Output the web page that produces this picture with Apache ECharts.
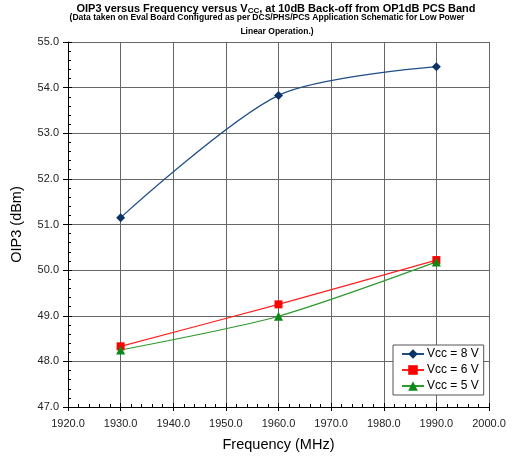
<!DOCTYPE html>
<html>
<head>
<meta charset="utf-8">
<script src="https://cdn.jsdelivr.net/npm/echarts@6/dist/echarts.min.js"></script>
<style>
  html, body { margin: 0; padding: 0; background: #fff; }
  #chart { width: 516px; height: 457px; }
</style>
</head>
<body>
<div id="chart"></div>
<script>
// Measured OIP3 (dBm) at each frequency (MHz) for three supply voltages
const frequencies = [1930, 1960, 1990];
const oip3Vcc8 = [51.15, 53.83, 54.46];
const oip3Vcc6 = [48.33, 49.25, 50.22];
const oip3Vcc5 = [48.25, 48.99, 50.18];
const seriesNames = ['Vcc = 8 V', 'Vcc = 6 V', 'Vcc = 5 V'];

const FONT = '"Liberation Sans", Arial, sans-serif';
const pairs = (ys) => frequencies.map((f, i) => [f, ys[i]]);

const chart = echarts.init(document.getElementById('chart'), null, { renderer: 'canvas' });

const labelFmt = (v) => Number(v).toFixed(1);

chart.setOption({
  animation: false,
  backgroundColor: '#ffffff',
  textStyle: { fontFamily: FONT },
  title: [
    {
      text: 'OIP3 versus Frequency versus V{sub|CC}, at 10dB Back-off from OP1dB PCS Band',
      left: 276, top: 2, textAlign: 'center', padding: 0,
      textStyle: {
        fontFamily: FONT, fontSize: 11, fontWeight: 'bold', color: '#000',
        rich: { sub: { fontFamily: FONT, fontSize: 8, fontWeight: 'bold', verticalAlign: 'bottom', padding: [5, 0, 0, 0], color: '#000' } }
      }
    },
    {
      text: '(Data taken on Eval Board Configured as per DCS/PHS/PCS Application Schematic for Low Power',
      left: 267, top: 13, textAlign: 'center', padding: 0,
      textStyle: { fontFamily: FONT, fontSize: 8.5, fontWeight: 'bold', color: '#000' }
    },
    {
      text: 'Linear Operation.)',
      left: 277, top: 27, textAlign: 'center', padding: 0,
      textStyle: { fontFamily: FONT, fontSize: 8.5, fontWeight: 'bold', color: '#000' }
    }
  ],
  legend: {
    left: 393, top: 345,
    orient: 'vertical',
    backgroundColor: '#fff',
    borderColor: '#555',
    borderWidth: 1,
    borderRadius: 0,
    padding: [3, 5, 3, 8],
    itemGap: 4,
    itemWidth: 22, itemHeight: 12,
    textStyle: { fontFamily: FONT, fontSize: 12, color: '#000', padding: [0, 0, 0, -2] },
    data: seriesNames
  },
  grid: { left: 68, right: 27, top: 42, bottom: 49, containLabel: false },
  xAxis: [
    {
      type: 'value', min: 1920, max: 2000, interval: 10,
      name: 'Frequency (MHz)', nameLocation: 'middle', nameGap: 30,
      nameTextStyle: { fontFamily: FONT, fontSize: 14.5, color: '#000' },
      axisLine: { show: true, lineStyle: { color: '#000', width: 1 } },
      axisTick: { show: true, inside: false, length: 4, lineStyle: { color: '#000' } },
      axisLabel: { fontFamily: FONT, fontSize: 11, color: '#222', margin: 11, formatter: labelFmt },
      splitLine: { show: true, lineStyle: { color: '#666', width: 1 } }
    },
    {
      type: 'value', min: 1920, max: 2000, interval: 10, position: 'bottom', offset: 0,
      axisLine: { show: false },
      axisTick: { show: true, inside: true, length: 4, lineStyle: { color: '#000' } },
      minorTick: { show: true, splitNumber: 5, length: 3, lineStyle: { color: '#000' } },
      axisLabel: { show: false },
      splitLine: { show: false }
    }
  ],
  yAxis: [
    {
      type: 'value', min: 47, max: 55, interval: 1,
      name: 'OIP3 (dBm)', nameLocation: 'middle', nameGap: 44, nameRotate: 90,
      nameTextStyle: { fontFamily: FONT, fontSize: 14.5, color: '#000' },
      axisLine: { show: true, lineStyle: { color: '#000', width: 1 } },
      axisTick: { show: true, inside: false, length: 5, lineStyle: { color: '#000' } },
      axisLabel: { fontFamily: FONT, fontSize: 11, color: '#222', margin: 9, formatter: labelFmt },
      splitLine: { show: true, lineStyle: { color: '#666', width: 1 } }
    },
    {
      type: 'value', min: 47, max: 55, interval: 1, position: 'left', offset: 0,
      axisLine: { show: false },
      axisTick: { show: true, inside: true, length: 4, lineStyle: { color: '#000' } },
      minorTick: { show: true, splitNumber: 5, length: 3, lineStyle: { color: '#000' } },
      axisLabel: { show: false },
      splitLine: { show: false }
    }
  ],
  series: [
    {
      name: seriesNames[0], type: 'line', smooth: 0.28,
      data: pairs(oip3Vcc8),
      symbol: 'diamond', symbolSize: 9,
      lineStyle: { color: '#1F4E86', width: 1.2 },
      itemStyle: { color: '#0A3466' }
    },
    {
      name: seriesNames[1], type: 'line', smooth: 0.25,
      data: pairs(oip3Vcc6),
      symbol: 'rect', symbolSize: 8,
      lineStyle: { color: '#FF2020', width: 1.2 },
      itemStyle: { color: '#FF0000' }
    },
    {
      name: seriesNames[2], type: 'line', smooth: 0.25,
      data: pairs(oip3Vcc5),
      symbol: 'triangle', symbolSize: 9,
      lineStyle: { color: '#2E9A2E', width: 1.2 },
      itemStyle: { color: '#0B8A1A' }
    }
  ]
});
</script>
</body>
</html>
